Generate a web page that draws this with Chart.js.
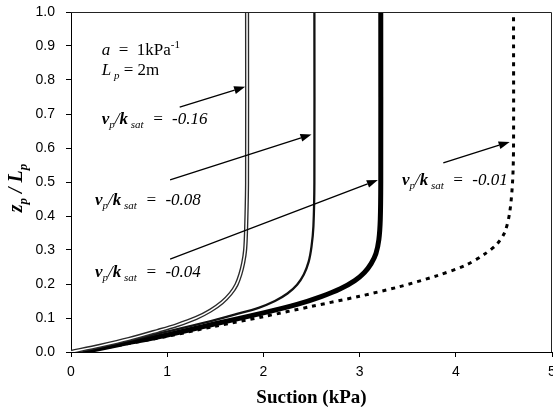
<!DOCTYPE html>
<html>
<head>
<meta charset="utf-8">
<script src="https://cdn.jsdelivr.net/npm/chart.js@4.4.1/dist/chart.umd.min.js"></script>
<style>
  html, body { margin: 0; padding: 0; background: #fff; }
  #wrap { width: 553px; height: 416px; position: relative; }
</style>
</head>
<body>
<div id="wrap"><canvas id="suctionChart"></canvas></div>
<script>
// values: suction (kPa) vs z_p/L_p
const suction016 = [0, 0.3, 0.6, 0.9, 1.1, 1.3, 1.45, 1.57, 1.66, 1.72, 1.76, 1.79, 1.81, 1.82, 1.83, 1.83];
const zRatio016  = [0, 0.018, 0.038, 0.062, 0.079, 0.100, 0.122, 0.146, 0.172, 0.198, 0.228, 0.262, 0.30, 0.36, 0.5, 1.0];

const suction008 = [0, 0.5, 1.0, 1.4, 1.7, 1.95, 2.12, 2.25, 2.35, 2.42, 2.47, 2.50, 2.52, 2.53, 2.53];
const zRatio008  = [0, 0.028, 0.06, 0.087, 0.11, 0.13, 0.15, 0.172, 0.198, 0.228, 0.265, 0.31, 0.37, 0.5, 1.0];

const suction004 = [0.12, 0.5, 1.0, 1.5, 2.0, 2.35, 2.6, 2.8, 2.95, 3.05, 3.12, 3.17, 3.20, 3.215, 3.22, 3.22];
const zRatio004  = [0, 0.022, 0.05, 0.083, 0.115, 0.14, 0.163, 0.186, 0.21, 0.234, 0.26, 0.29, 0.33, 0.39, 0.5, 1.0];

const suction001 = [0.12, 0.5, 1.0, 1.5, 2.0, 2.5, 3.0, 3.4, 3.8, 4.1, 4.3, 4.43, 4.51, 4.56, 4.59, 4.60, 4.60];
const zRatio001  = [0, 0.02, 0.046, 0.076, 0.104, 0.134, 0.164, 0.191, 0.224, 0.255, 0.288, 0.318, 0.353, 0.41, 0.5, 0.6, 1.0];

const xTickValues = [0, 1, 2, 3, 4, 5];
const yTickValues = [0, 0.1, 0.2, 0.3, 0.4, 0.5, 0.6, 0.7, 0.8, 0.9, 1.0];

function toPoints(xs, ys) {
    return xs.map((x, i) => ({ x: x, y: ys[i] }));
}

const serif = '"Liberation Serif", "Times New Roman", serif';
const sans = '"Liberation Sans", Arial, sans-serif';

// annotation arrows, in data units (tail -> head)
const arrows = [
    [1.13, 0.72, 1.81, 0.78],
    [1.03, 0.506, 2.50, 0.64],
    [1.03, 0.273, 3.19, 0.506],
    [3.87, 0.556, 4.56, 0.618]
];

function ratioLabel(value) {
    return [
        { t: 'v', f: 'italic bold 17px ' + serif },
        { t: 'p', f: 'italic 11px ' + serif, dy: 4 },
        { t: '/', f: 'italic 17px ' + serif },
        { t: 'k', f: 'italic bold 17px ' + serif },
        { t: ' sat', f: 'italic 11px ' + serif, dy: 4 },
        { t: '  =  ' + value, f: 'italic 17px ' + serif }
    ];
}

const labels = [
    { x: 0.32, y: 0.874, parts: [
        { t: 'a', f: 'italic 17px ' + serif },
        { t: '  =  1kPa', f: '17px ' + serif },
        { t: '-1', f: '11px ' + serif, dy: -7 }
    ]},
    { x: 0.32, y: 0.815, parts: [
        { t: 'L', f: 'italic 17px ' + serif },
        { t: ' p', f: 'italic 11px ' + serif, dy: 4 },
        { t: ' = 2m', f: '17px ' + serif }
    ]},
    { x: 0.32, y: 0.671, parts: ratioLabel('-0.16') },
    { x: 0.25, y: 0.432, parts: ratioLabel('-0.08') },
    { x: 0.25, y: 0.22, parts: ratioLabel('-0.04') },
    { x: 3.44, y: 0.491, parts: ratioLabel('-0.01') }
];

function drawRich(ctx, x, y, parts) {
    let cx = x;
    parts.forEach(p => {
        ctx.font = p.f;
        ctx.fillText(p.t, cx, y + (p.dy || 0));
        cx += ctx.measureText(p.t).width;
    });
    return cx - x;
}

function richWidth(ctx, parts) {
    let w = 0;
    parts.forEach(p => { ctx.font = p.f; w += ctx.measureText(p.t).width; });
    return w;
}

const decorations = {
    id: 'decorations',
    afterDraw(chart) {
        const ctx = chart.ctx;
        const xs = chart.scales.x, ys = chart.scales.y;
        const area = chart.chartArea;
        ctx.save();

        // frame top and right
        ctx.strokeStyle = '#222';
        ctx.lineWidth = 1;
        ctx.beginPath();
        ctx.moveTo(area.left, area.top + 0.5);
        ctx.lineTo(area.right - 0.5, area.top + 0.5);
        ctx.lineTo(area.right - 0.5, area.bottom);
        ctx.stroke();

        // arrows
        ctx.strokeStyle = '#000';
        ctx.fillStyle = '#000';
        ctx.lineWidth = 1.3;
        arrows.forEach(a => {
            const x1 = xs.getPixelForValue(a[0]), y1 = ys.getPixelForValue(a[1]);
            const x2 = xs.getPixelForValue(a[2]), y2 = ys.getPixelForValue(a[3]);
            const ang = Math.atan2(y2 - y1, x2 - x1);
            const hl = 11, hw = 4;
            const bx = x2 - hl * Math.cos(ang), by = y2 - hl * Math.sin(ang);
            ctx.beginPath();
            ctx.moveTo(x1, y1);
            ctx.lineTo(bx, by);
            ctx.stroke();
            ctx.beginPath();
            ctx.moveTo(x2, y2);
            ctx.lineTo(bx + hw * Math.sin(ang), by - hw * Math.cos(ang));
            ctx.lineTo(bx - hw * Math.sin(ang), by + hw * Math.cos(ang));
            ctx.closePath();
            ctx.fill();
        });

        // text labels
        ctx.textBaseline = 'alphabetic';
        ctx.textAlign = 'left';
        labels.forEach(l => {
            drawRich(ctx, xs.getPixelForValue(l.x), ys.getPixelForValue(l.y), l.parts);
        });

        // axis titles
        const xTitle = [{ t: 'Suction (kPa)', f: 'bold 19px ' + serif }];
        const xw = richWidth(ctx, xTitle);
        drawRich(ctx, (area.left + area.right) / 2 - xw / 2, 403, xTitle);

        const yTitle = [
            { t: 'z', f: 'italic bold 20px ' + serif },
            { t: 'p', f: 'italic bold 13px ' + serif, dy: 5 },
            { t: ' / ', f: 'italic bold 20px ' + serif },
            { t: 'L', f: 'italic bold 20px ' + serif },
            { t: 'p', f: 'italic bold 13px ' + serif, dy: 5 }
        ];
        const yw = richWidth(ctx, yTitle);
        ctx.translate(22, 188);
        ctx.rotate(-Math.PI / 2);
        drawRich(ctx, -yw / 2, 0, yTitle);
        ctx.restore();
    }
};

const lineBase = { pointRadius: 0, tension: 0.3, fill: false };

new Chart(document.getElementById('suctionChart').getContext('2d'), {
    type: 'line',
    data: {
        datasets: [
            Object.assign({ label: 'vp/ksat = -0.16 inner', data: toPoints(suction016, zRatio016),
                borderColor: '#fff', borderWidth: 1.5 }, lineBase),
            Object.assign({ label: 'vp/ksat = -0.16', data: toPoints(suction016, zRatio016),
                borderColor: '#2a2a2a', borderWidth: 4.2 }, lineBase),
            Object.assign({ label: 'vp/ksat = -0.08', data: toPoints(suction008, zRatio008),
                borderColor: '#111', borderWidth: 2.3 }, lineBase),
            Object.assign({ label: 'vp/ksat = -0.04', data: toPoints(suction004, zRatio004),
                borderColor: '#000', borderWidth: 5 }, lineBase),
            Object.assign({ label: 'vp/ksat = -0.01', data: toPoints(suction001, zRatio001),
                borderColor: '#000', borderWidth: 3, borderDash: [4, 5] }, lineBase)
        ]
    },
    options: {
        responsive: true,
        maintainAspectRatio: false,
        animation: false,
        layout: { padding: { top: 12, right: 1, left: 0, bottom: 0 } },
        plugins: { legend: { display: false }, tooltip: { enabled: false } },
        scales: {
            x: {
                type: 'linear', min: 0, max: 5,
                afterBuildTicks: s => { s.ticks = xTickValues.map(v => ({ value: v })); },
                ticks: { color: '#000', font: { family: sans, size: 14 }, padding: 7, maxRotation: 0 },
                grid: { drawOnChartArea: false, tickLength: 5, color: '#000' },
                border: { color: '#000', width: 1 },
                afterFit: s => { s.height = 64; s.paddingLeft = 0; s.paddingRight = 0; }
            },
            y: {
                type: 'linear', min: 0, max: 1,
                afterBuildTicks: s => { s.ticks = yTickValues.map(v => ({ value: v })); },
                ticks: { color: '#000', font: { family: sans, size: 14 }, padding: 11,
                    callback: v => Number(v).toFixed(1) },
                grid: { drawOnChartArea: false, tickLength: 5, color: '#000' },
                border: { color: '#000', width: 1 },
                afterFit: s => { s.width = 71; s.paddingTop = 0; s.paddingBottom = 0; }
            }
        }
    },
    plugins: [decorations]
});
</script>
</body>
</html>
